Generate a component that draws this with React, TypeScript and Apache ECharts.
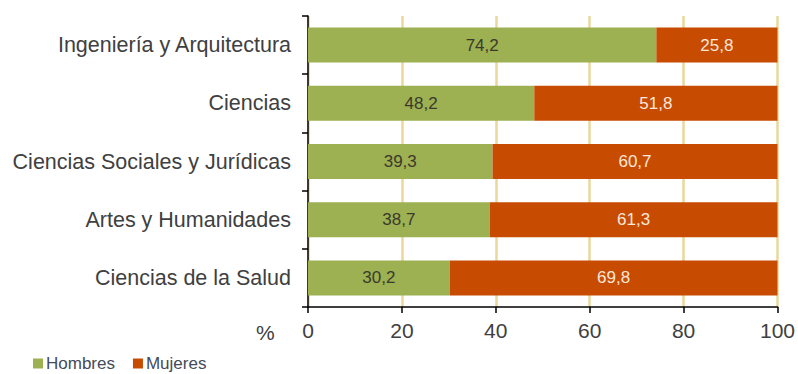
import React, { useEffect, useRef } from "react";
import * as echarts from "echarts";

const categories = [
  "Ingeniería y Arquitectura",
  "Ciencias",
  "Ciencias Sociales y Jurídicas",
  "Artes y Humanidades",
  "Ciencias de la Salud",
];
const hombres = [74.2, 48.2, 39.3, 38.7, 30.2];
const mujeres = [25.8, 51.8, 60.7, 61.3, 69.8];
const seriesNames = ["Hombres", "Mujeres"];
const xTicks = { min: 0, max: 100, interval: 20 };

const FONT = "'Liberation Sans', Arial, sans-serif";

export default function App() {
  const ref = useRef<HTMLDivElement>(null);
  useEffect(() => {
    document.body.style.margin = "0";
    if (!ref.current) return;
    const chart = echarts.init(ref.current, undefined, { renderer: "svg" });
    const fmt = (p: any) => String(p.value).replace(".", ",");
    chart.setOption({
      animation: false,
      backgroundColor: "#ffffff",
      textStyle: { fontFamily: FONT },
      grid: { left: 308, right: 18, top: 16, bottom: 67, containLabel: false },
      legend: {
        left: 33,
        top: 355,
        padding: 0,
        itemWidth: 10,
        itemHeight: 10,
        itemGap: 18,
        icon: "rect",
        textStyle: { fontFamily: FONT, fontSize: 17, color: "#454a58", padding: [0, 0, 0, -2] },
        data: seriesNames,
      },
      xAxis: {
        type: "value",
        min: xTicks.min,
        max: xTicks.max,
        interval: xTicks.interval,
        axisLine: { show: true, lineStyle: { color: "#000000", width: 1.5 } },
        axisTick: { show: true, length: 6, lineStyle: { color: "#000000", width: 1.5 } },
        axisLabel: { fontFamily: FONT, fontSize: 21, color: "#404040", margin: 13 },
        splitLine: { show: true, lineStyle: { color: "#e9d79c", width: 2.5 } },
      },
      yAxis: {
        type: "category",
        inverse: true,
        data: categories,
        axisLine: { show: true, lineStyle: { color: "#000000", width: 1.5 } },
        axisTick: { show: true, length: 6, lineStyle: { color: "#000000", width: 1.5 } },
        axisLabel: { fontFamily: FONT, fontSize: 21.5, color: "#404040", margin: 17 },
        splitLine: { show: false },
      },
      graphic: [
        {
          type: "text",
          left: 256,
          top: 322,
          style: { text: "%", font: `21px ${FONT}`, fill: "#404040" },
        },
      ],
      series: [
        {
          name: seriesNames[0],
          type: "bar",
          stack: "total",
          barWidth: 35,
          data: hombres,
          itemStyle: { color: "#9db052" },
          label: {
            show: true,
            position: "inside",
            formatter: fmt,
            fontFamily: FONT,
            fontSize: 17,
            color: "#3a3a2c",
          },
        },
        {
          name: seriesNames[1],
          type: "bar",
          stack: "total",
          barWidth: 35,
          data: mujeres,
          itemStyle: { color: "#c84b02" },
          label: {
            show: true,
            position: "inside",
            formatter: fmt,
            fontFamily: FONT,
            fontSize: 17,
            color: "#fbe8da",
          },
        },
      ],
    });
    return () => chart.dispose();
  }, []);
  return <div ref={ref} style={{ width: 798, height: 374 }} />;
}
